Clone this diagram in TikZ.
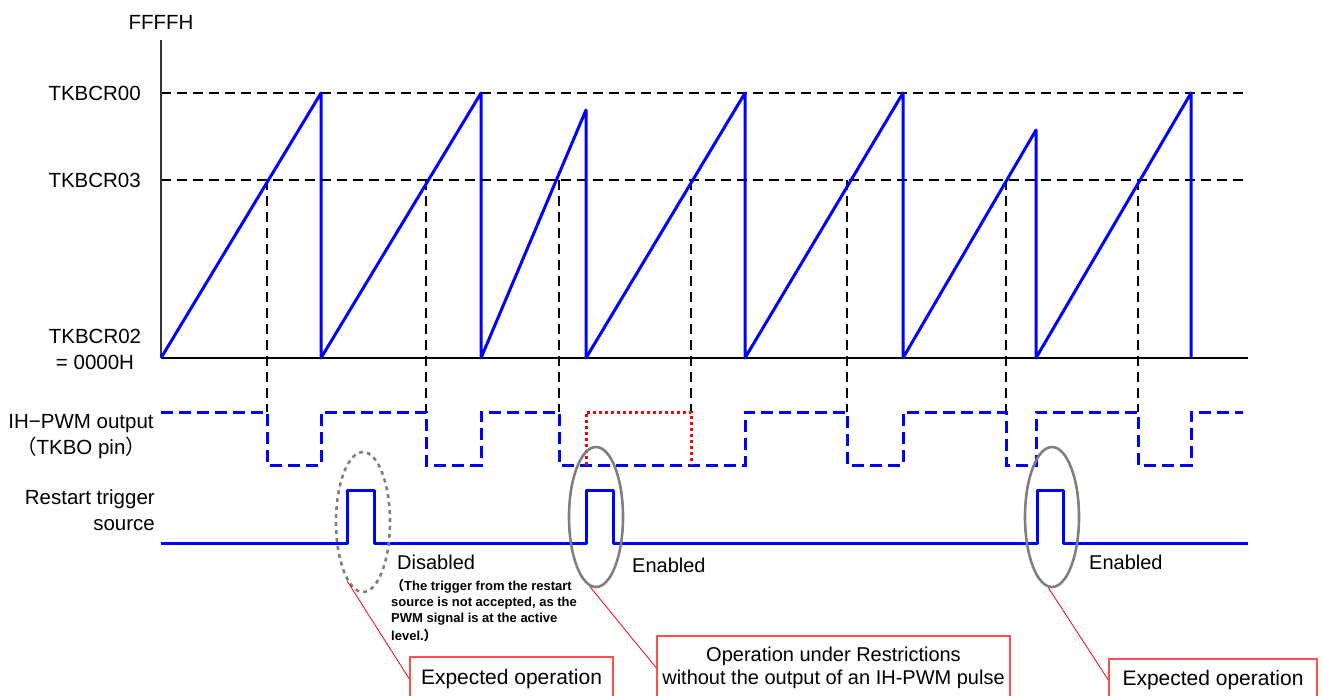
\documentclass[tikz,border=0pt]{standalone}
\usepackage{fontspec}
\setmainfont{Liberation Sans}
\newfontfamily\cjk{Noto Sans CJK JP}
\usetikzlibrary{shapes.geometric}
\definecolor{pureblue}{RGB}{0,0,255}
\definecolor{ellgray}{RGB}{128,128,128}
\definecolor{boxred}{RGB}{255,80,80}
\tikzset{
  wave/.style={draw=pureblue, line width=3pt, line join=round},
  wavedash/.style={draw=pureblue, line width=3pt, dash pattern=on 12pt off 6pt},
  reddot/.style={draw=red, line width=3pt, dash pattern=on 3pt off 3pt},
  guide/.style={draw=black, line width=1.3pt, dash pattern=on 10pt off 6pt},
  axisline/.style={draw=black!80, line width=1.8pt},
  ring/.style={ellipse, draw=ellgray, line width=2.6pt, minimum width=54pt, minimum height=140pt, inner sep=0pt},
  ringdash/.style={ring, dash pattern=on 4pt off 4pt},
  lbl/.style={inner sep=0pt, font=\fontsize{20.5}{26}\selectfont},
  note/.style={inner sep=0pt, align=left, font=\bfseries\fontsize{13}{16}\selectfont},
  callbox/.style={draw=boxred, line width=1.3pt, inner sep=0pt, align=center},
  callline/.style={draw=red, line width=0.8pt}
}
\begin{document}
\begin{tikzpicture}[x=1pt, y=-1pt]
\useasboundingbox (0,0) rectangle (1323,696);
% labels
\node[lbl] (fffff) at (161,22) {FFFFH};
\node[lbl, anchor=east] (r00) at (141,93) {TKBCR00};
\node[lbl, anchor=east] (r03) at (141,180) {TKBCR03};
\node[lbl, align=center] (r02) at (95,349) {TKBCR02\\= 0000H};
\node[lbl, align=center] (pwm) at (81,437) {IH−PWM output\\{\cjk （}TKBO pin{\cjk ）}};
\node[lbl, align=right, anchor=east] (rst) at (155,510) {Restart trigger\\source};
% reference lines
\draw[guide] (161,93) -- (1248,93);
\draw[guide] (161,180) -- (1248,180);
\foreach \gx in {267,426,559,691,847,1006,1138}
  \draw[guide] (\gx,180) -- (\gx,412);
% axes
\draw[axisline] (161,40) -- (161,358);
\draw[draw=black, line width=1.5pt] (161,358) -- (1248,358);
% sawtooth counter
\draw[wave] (161,358) -- (321,93) -- (321,358) -- (481,93) -- (481,358)
  -- (586,110) -- (586,358) -- (745,93) -- (745,358) -- (903,93) -- (903,358)
  -- (1036,130) -- (1036,358) -- (1191,93) -- (1191,358);
% PWM output
\draw[wavedash] (161,412) -- (267,412) -- (267,465) -- (321,465) -- (321,412)
  -- (426,412) -- (426,465) -- (481,465) -- (481,412) -- (559,412) -- (559,465)
  -- (745,465) -- (745,412) -- (847,412) -- (847,465) -- (903,465) -- (903,412)
  -- (1006,412) -- (1006,465) -- (1036,465) -- (1036,412) -- (1138,412)
  -- (1138,465) -- (1191,465) -- (1191,412) -- (1243,412);
\draw[reddot] (586,465) -- (586,412) -- (691,412) -- (691,465);
% restart trigger
\draw[wave] (161,543) -- (347,543) -- (347,490) -- (374,490) -- (374,543)
  -- (586,543) -- (586,490) -- (613,490) -- (613,543) -- (1037,543)
  -- (1037,490) -- (1063,490) -- (1063,543) -- (1248,543);
% rings
\node[ringdash] (e1) at (363,522) {};
\node[ring] (e2) at (596,517) {};
\node[ring] (e3) at (1052,517) {};
% state texts
\node[lbl, anchor=west, font=\fontsize{20}{24}\selectfont] (dis) at (397,562) {Disabled};
\node[note, anchor=north west] (why) at (391,579) {{\cjk （}The trigger from the restart\\source is not accepted, as the\\PWM signal is at the active\\[2pt]level.{\cjk ）}};
\node[lbl, anchor=west, font=\fontsize{20}{24}\selectfont] (en1) at (632,565) {Enabled};
\node[lbl, anchor=west, font=\fontsize{20}{24}\selectfont] (en2) at (1089,562) {Enabled};
% callout boxes
\node[callbox, minimum width=203pt, minimum height=44pt, font=\fontsize{21}{24}\selectfont] (b1) at (511.5,679) {Expected operation};
\node[callbox, minimum width=353pt, minimum height=64pt, font=\fontsize{20}{23}\selectfont] (b2) at (833.5,668) {Operation under Restrictions\\without the output of an IH-PWM pulse};
\node[callbox, minimum width=208pt, minimum height=42pt, font=\fontsize{21}{24}\selectfont] (b3) at (1213,680) {Expected operation};
% callout lines
\draw[callline] (e1.255) -- (b1.west);
\draw[callline] (e2.265) -- (b2.west);
\draw[callline] (e3.267) -- (b3.west);
\end{tikzpicture}
\end{document}
